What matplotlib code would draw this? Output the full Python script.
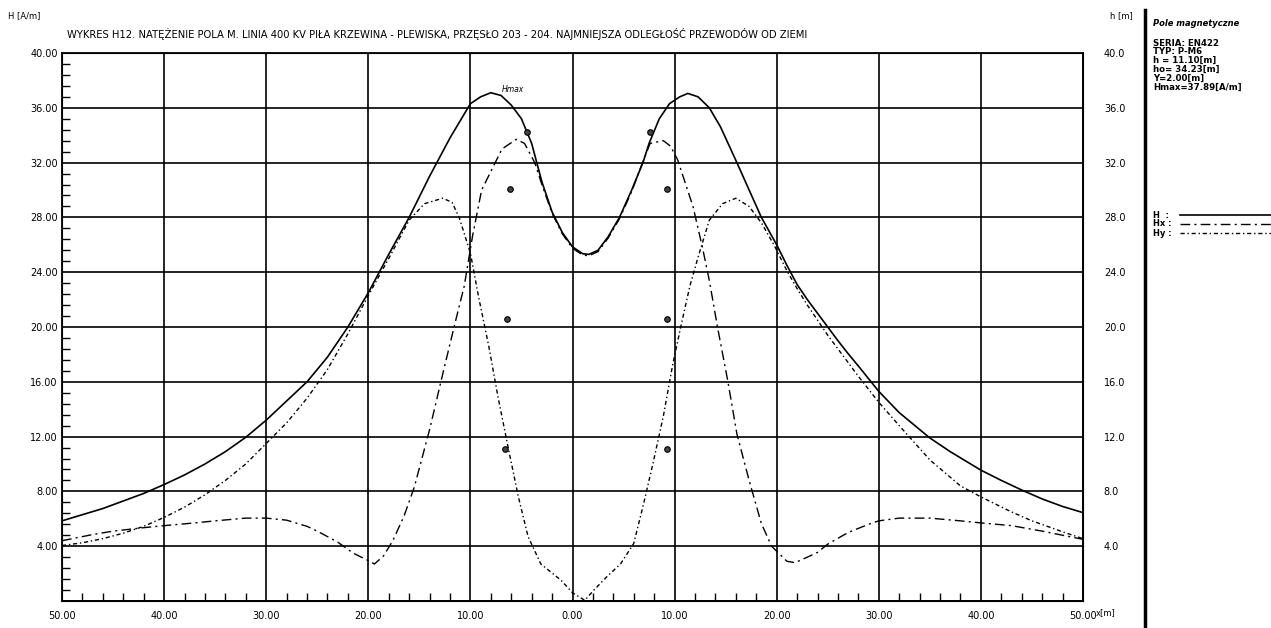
import matplotlib
matplotlib.use("Agg")
import matplotlib.pyplot as plt
from matplotlib.lines import Line2D
from matplotlib.ticker import MultipleLocator, FuncFormatter

plt.rcParams['font.family'] = ['DejaVu Sans']

# H - total field [A/m] along the cross-section x [m]
h_x = [-50, -48, -46, -44, -42, -40, -38, -36, -34, -32, -30, -28, -26, -24, -22, -20,
       -18, -16, -14, -12, -10, -9, -8, -7, -6, -5, -4, -3, -2, -1, 0, 1, 1.6, 2.5,
       3.5, 4.6, 5.8, 6.9, 7.5, 8.5, 9.5, 10.5, 11.3, 12.3, 13.4, 14.5, 16.1, 17.3,
       18.5, 20, 21, 22, 23, 24, 25, 26, 27, 28, 30, 32, 35, 37, 40, 42, 44, 46, 48, 50]
h_val = [5.85, 6.3, 6.75, 7.3, 7.85, 8.5, 9.2, 10.0, 10.9, 11.95, 13.2, 14.6, 16.0, 17.8,
         20.0, 22.5, 25.3, 28.0, 31.0, 33.8, 36.3, 36.8, 37.1, 36.9, 36.2, 35.2, 33.4,
         30.6, 28.4, 26.9, 25.85, 25.35, 25.3, 25.6, 26.6, 28.0, 30.0, 32.0, 33.4, 35.2,
         36.3, 36.8, 37.05, 36.8, 36.0, 34.6, 32.0, 30.0, 28.0, 26.0, 24.5, 23.1, 22.0,
         21.0, 20.0, 19.0, 18.05, 17.15, 15.3, 13.75, 11.9, 10.9, 9.55, 8.8, 8.1, 7.45,
         6.9, 6.45]

# Hx - horizontal component
hx_x = [-50, -47, -45, -42, -40, -37, -35, -32, -30, -28, -26, -25, -23, -21.5, -20,
        -19.4, -18.5, -17.6, -16.5, -15.5, -14, -12.7, -11.6, -10.6, -9.8, -8.9, -7.9,
        -6.9, -5.5, -4.7, -3.7, -3, -2, -1, 0, 1, 1.6, 2.5, 3.5, 4.6, 5.8, 6.6, 7.6,
        8.9, 9.6, 10.3, 11.8, 12.7, 13.4, 14.2, 15.2, 16.1, 17.3, 18.5, 19.5, 21.0,
        21.8, 23, 24, 25, 27, 29, 30, 32, 35, 38, 40, 43, 46, 50]
hx_val = [4.4, 4.85, 5.1, 5.35, 5.5, 5.7, 5.85, 6.05, 6.05, 5.9, 5.45, 5.1, 4.3, 3.5,
          2.95, 2.7, 3.3, 4.4, 6.2, 8.3, 12.5, 16.6, 20.0, 23.0, 26.6, 30.0, 31.5, 33.0,
          33.7, 33.4, 32.0, 30.4, 28.3, 26.8, 25.75, 25.25, 25.2, 25.5, 26.5, 27.9,
          29.9, 31.5, 33.4, 33.6, 33.2, 32.2, 28.8, 25.9, 23.4, 20.0, 16.1, 12.2, 8.8,
          5.65, 4.0, 2.9, 2.8, 3.2, 3.55, 4.15, 5.0, 5.6, 5.85, 6.05, 6.05, 5.85, 5.7,
          5.5, 5.1, 4.5]

# Hy - vertical component
hy_x = [-50, -48, -46, -44, -42, -40, -38, -36, -34, -32, -30, -28, -26, -24, -22, -20,
        -18, -16, -14.5, -12.7, -11.8, -11.1, -10.0, -9.2, -8.2, -7.3, -6.3, -5.3,
        -4.35, -3.1, -1.1, 0, 1.2, 2.1, 3.4, 4.7, 6.0, 6.9, 7.9, 8.9, 9.8, 10.6, 11.5,
        12.3, 13.4, 14.7, 16.0, 17.3, 18.5, 19.8, 21, 22, 23, 24, 25, 26, 27, 28, 30,
        32, 35, 38, 40, 43, 45, 48, 50]
hy_val = [4.05, 4.25, 4.55, 4.95, 5.45, 6.1, 6.85, 7.75, 8.8, 10.0, 11.5, 13.0, 14.8,
          16.9, 19.5, 22.3, 25.0, 27.8, 29.0, 29.4, 29.1, 28.0, 25.4, 22.2, 18.6, 14.9,
          11.2, 7.6, 4.7, 2.7, 1.5, 0.6, 0.05, 0.8, 1.8, 2.7, 4.2, 6.9, 10.1, 13.5, 17.2,
          20.0, 23.0, 25.1, 27.8, 29.0, 29.4, 28.8, 27.6, 25.9, 24.1, 22.8, 21.6, 20.5,
          19.4, 18.4, 17.4, 16.4, 14.5, 12.8, 10.3, 8.4, 7.6, 6.5, 5.85, 5.05, 4.55]

# conductor positions (x [m], height h [m])
cond_left_x = [-4.5, -6.1, -6.4, -6.6]
cond_right_x = [7.6, 9.3, 9.3, 9.3]
cond_h = [34.23, 30.1, 20.6, 11.10]

title = ("WYKRES H12. NATĘŻENIE POLA M. LINIA 400 KV PIŁA KRZEWINA - PLEWISKA, "
         "PRZĘSŁO 203 - 204. NAJMNIEJSZA ODLEGŁOŚĆ PRZEWODÓW OD ZIEMI")
info_lines = ["SERIA: EN422", "TYP: P-M6", "h = 11.10[m]", "ho= 34.23[m]",
              "Y=2.00[m]", "Hmax=37.89[A/m]"]

W, H = 1271, 628
fig = plt.figure(figsize=(W / 100, H / 100), dpi=100)
ax = fig.add_axes([62 / W, 1 - 601 / H, (1083 - 62) / W, (601 - 53) / H])

ls_h = '-'
ls_hx = (0, (7, 3, 1.5, 3))
ls_hy = (0, (3, 2, 1, 2))

ax.plot(h_x, h_val, color='black', lw=1.2, ls=ls_h)
ax.plot(hx_x, hx_val, color='black', lw=1.0, ls=ls_hx)
ax.plot(hy_x, hy_val, color='black', lw=1.0, ls=ls_hy)
ax.plot(cond_left_x, cond_h, ls='none', marker='o', ms=4, mfc='#444444', mec='black', mew=0.8)
ax.plot(cond_right_x, cond_h, ls='none', marker='o', ms=4, mfc='#444444', mec='black', mew=0.8)
ax.text(-6.9, 37.3, "Hmax", fontsize=5.5, style='italic', va='center', ha='left')

ax.set_xlim(-50, 50)
ax.set_ylim(0, 40)
ax.xaxis.set_major_locator(MultipleLocator(10))
ax.xaxis.set_minor_locator(MultipleLocator(2))
ax.yaxis.set_major_locator(MultipleLocator(4))
ax.yaxis.set_minor_locator(MultipleLocator(0.8))
ax.xaxis.set_major_formatter(FuncFormatter(lambda v, p: "%.2f" % abs(v)))
ax.yaxis.set_major_formatter(FuncFormatter(lambda v, p: "" if v == 0 else "%.2f" % v))
ax.tick_params(axis='both', which='major', length=0, labelsize=7)
ax.tick_params(axis='x', which='major', pad=7)
ax.tick_params(axis='y', which='major', pad=3)
ax.tick_params(axis='both', which='minor', direction='in', length=6, width=1.0)
ax.grid(True, which='major', color='black', lw=1.2)
for sp in ax.spines.values():
    sp.set_linewidth(1.3)

# right-hand h [m] scale
ax2 = ax.twinx()
ax2.set_ylim(0, 40)
ax2.yaxis.set_major_locator(MultipleLocator(4))
ax2.yaxis.set_major_formatter(FuncFormatter(lambda v, p: "" if v == 0 else "%.1f" % v))
ax2.tick_params(axis='y', length=0, labelsize=7, pad=15)

fig.text(8 / W, 1 - 16 / H, "H [A/m]", fontsize=6, va='center')
fig.text(1110 / W, 1 - 16 / H, "h [m]", fontsize=6, va='center')
fig.text(1096 / W, 1 - 613 / H, "x[m]", fontsize=6, va='center')
fig.text(67 / W, 1 - 34 / H, title, fontsize=7.2, va='center')

# side panel with parameters and legend
fig.add_artist(Line2D([1145 / W, 1145 / W], [0, 1 - 10 / H], color='black', lw=2.5,
                      transform=fig.transFigure))
fig.text(1153 / W, 1 - 23 / H, "Pole magnetyczne", fontsize=6, weight='bold',
         style='italic', va='center')
for i, line in enumerate(info_lines):
    fig.text(1153 / W, 1 - (43 + 8.8 * i) / H, line, fontsize=6.2, weight='bold', va='center')

legend_items = [("H  :", ls_h, 1.2), ("Hx :", ls_hx, 1.0), ("Hy :", ls_hy, 1.0)]
for i, (name, ls, lw) in enumerate(legend_items):
    y = 1 - (215 + 9 * i) / H
    fig.text(1153 / W, y, name, fontsize=6, weight='bold', va='center')
    fig.add_artist(Line2D([1180 / W, 1271 / W], [y, y], color='black', lw=lw, ls=ls,
                          transform=fig.transFigure))

fig.savefig("out.png", dpi=100)
